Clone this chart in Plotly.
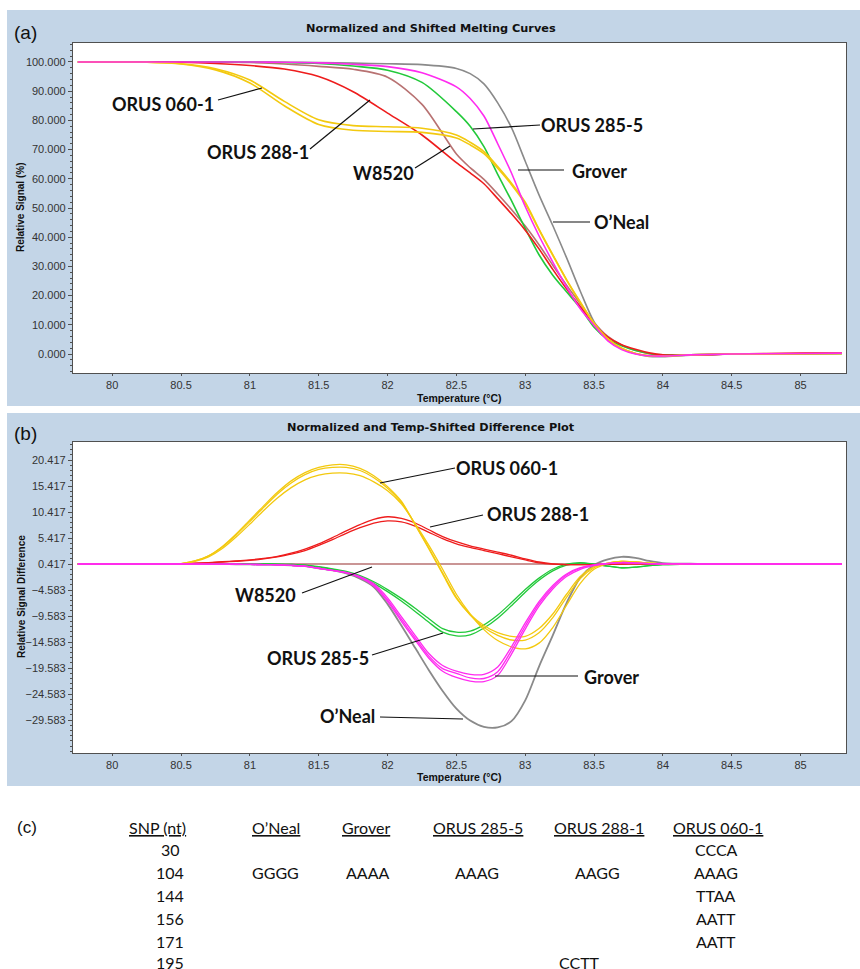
import plotly.graph_objects as go

W, H = 860, 969

# ---------------- panel (a): normalized and shifted melting curves ----------------
temp_a = [79.75, 80.0, 80.25, 80.5, 80.75, 81.0, 81.25, 81.5, 81.75, 82.0, 82.25,
          82.5, 82.6, 82.7, 82.8, 82.9, 83.0, 83.1, 83.2, 83.3, 83.4, 83.5, 83.6,
          83.7, 83.8, 83.9, 84.0, 84.2, 84.5, 85.0, 85.3]

oneal_a = [100, 100, 100, 100, 100, 100, 99.9, 99.8, 99.6, 99.4, 99.1,
           97.8, 96.0, 92.5, 86.0, 77.5, 66.0, 54.5, 44.0, 33.0, 21.5, 11.0, 4.8,
           1.8, 0.2, -0.8, -0.9, -0.4, 0.0, 0.1, 0.2]
grover_a = [100, 100, 100, 100, 100, 100, 99.9, 99.7, 99.2, 98.4, 96.3,
            91.5, 87.5, 81.5, 72.0, 62.0, 50.5, 40.5, 31.5, 23.0, 15.5, 9.8, 4.5,
            1.5, 0.0, -0.6, -0.7, -0.3, 0.0, 0.2, 0.3]
orus285_a = [100, 100, 100, 100, 100, 100, 99.8, 99.5, 98.6, 97.2, 93.0,
             83.0, 78.0, 71.0, 61.5, 52.5, 43.0, 34.0, 27.0, 21.3, 15.8, 9.2, 5.0,
             2.8, 1.2, 0.2, -0.3, -0.3, 0.0, 0.1, 0.2]
w8520_a = [100, 100, 100, 100, 100, 99.8, 99.3, 98.5, 97.5, 94.8, 85.5,
           68.5, 63.8, 59.8, 54.8, 49.5, 43.8, 37.4, 30.4, 23.6, 17.2, 10.8, 6.0,
           3.1, 1.3, 0.1, -0.4, -0.3, 0.0, 0.1, 0.2]
orus288_a = [100, 100, 100, 99.9, 99.5, 98.8, 97.6, 95.0, 89.8, 82.5, 75.0,
             65.5, 62.0, 58.3, 53.2, 48.0, 42.4, 36.0, 29.0, 22.3, 16.2, 10.2, 5.8,
             3.2, 1.6, 0.4, -0.3, -0.4, 0.0, 0.3, 0.4]
orus060_a_r1 = [100, 100, 99.9, 99.4, 97.7, 93.8, 86.5, 80.2, 78.2, 77.8, 77.3,
                75.0, 72.5, 69.3, 64.2, 58.5, 52.0, 42.8, 34.0, 25.5, 17.8, 10.5, 5.2,
                2.0, 0.2, -0.6, -0.7, -0.3, 0.0, 0.1, 0.2]
orus060_a_r2 = [100, 100, 99.9, 99.3, 97.3, 92.8, 85.0, 78.6, 76.6, 76.2, 75.9,
                74.0, 71.6, 68.6, 63.6, 58.0, 51.5, 42.5, 33.8, 25.3, 17.6, 10.4, 5.1,
                2.0, 0.2, -0.6, -0.7, -0.3, 0.0, 0.1, 0.2]

# ---------------- panel (b): difference plot ----------------
temp_b = [79.75, 80.0, 80.25, 80.5, 80.6, 80.7, 80.8, 80.9, 81.0, 81.1,
          81.2, 81.3, 81.4, 81.5, 81.6, 81.7, 81.8, 81.9, 82.0, 82.1,
          82.2, 82.3, 82.4, 82.5, 82.6, 82.7, 82.8, 82.9, 83.0, 83.1,
          83.2, 83.3, 83.4, 83.5, 83.6, 83.7, 83.8, 83.9, 84.0, 84.25,
          84.5, 85.0, 85.3]

w8520_b_temp = [79.75, 85.3]
w8520_b = [0.417, 0.417]

oneal_b = [0.417, 0.417, 0.417, 0.417, 0.41, 0.4, 0.39, 0.37, 0.34, 0.3,
           0.25, 0.15, 0.0, -0.4, -0.8, -1.4, -2.4, -4.0, -7.3, -11.4,
           -15.7, -20.0, -24.0, -27.4, -29.7, -30.9, -31.0, -29.8, -25.8, -19.3,
           -13.3, -7.1, -2.2, 0.2, 1.3, 1.8, 1.6, 1.0, 0.6, 0.45,
           0.417, 0.417, 0.417]
orus285_b_r1 = [0.417, 0.417, 0.417, 0.417, 0.417, 0.417, 0.417, 0.417, 0.417, 0.417,
                0.41, 0.35, 0.2, -0.1, -0.5, -1.0, -1.8, -3.0, -4.5, -6.2,
                -8.1, -10.1, -12.0, -12.7, -12.5, -11.3, -9.4, -7.0, -4.5, -2.3,
                -0.6, 0.4, 0.7, 0.4, 0.0, -0.3, -0.2, 0.1, 0.3, 0.417,
                0.417, 0.417, 0.417]
orus285_b_r2 = [0.417, 0.417, 0.417, 0.417, 0.417, 0.417, 0.417, 0.417, 0.417, 0.417,
                0.41, 0.35, 0.2, -0.2, -0.6, -1.2, -2.0, -3.3, -4.9, -6.7,
                -8.7, -10.8, -12.7, -13.4, -13.2, -11.9, -10.0, -7.6, -5.0, -2.7,
                -0.9, 0.2, 0.6, 0.4, 0.0, -0.3, -0.2, 0.1, 0.3, 0.417,
                0.417, 0.417, 0.417]
orus288_b_r1 = [0.417, 0.417, 0.43, 0.5, 0.6, 0.7, 0.85, 1.0, 1.2, 1.5,
                1.9, 2.5, 3.3, 4.3, 5.5, 6.8, 8.0, 9.0, 9.5, 9.2,
                8.3, 7.0, 5.7, 4.7, 3.9, 3.3, 2.7, 2.1, 1.4, 0.8,
                0.45, 0.3, 0.3, 0.3, 0.35, 0.4, 0.45, 0.45, 0.42, 0.417,
                0.417, 0.417, 0.417]
orus288_b_r2 = [0.417, 0.417, 0.42, 0.48, 0.55, 0.65, 0.8, 0.95, 1.1, 1.4,
                1.8, 2.3, 3.0, 4.0, 5.1, 6.3, 7.4, 8.3, 8.7, 8.5,
                7.7, 6.5, 5.3, 4.3, 3.6, 3.0, 2.4, 1.8, 1.2, 0.65,
                0.4, 0.3, 0.3, 0.3, 0.35, 0.4, 0.45, 0.45, 0.42, 0.417,
                0.417, 0.417, 0.417]
orus060_b_r1 = [0.417, 0.417, 0.42, 0.5, 1.0, 2.0, 3.8, 6.2, 8.9, 11.6,
                14.2, 16.4, 18.0, 19.0, 19.5, 19.5, 18.8, 17.4, 15.3, 12.5,
                8.0, 3.3, -1.5, -6.2, -9.3, -11.4, -12.8, -13.5, -13.5, -12.0,
                -9.2, -5.4, -2.0, -0.1, 0.6, 0.9, 0.8, 0.6, 0.45, 0.417,
                0.417, 0.417, 0.417]
orus060_b_r2 = [0.417, 0.417, 0.42, 0.5, 1.0, 2.0, 3.7, 6.0, 8.6, 11.3,
                13.9, 16.0, 17.6, 18.6, 19.0, 19.0, 18.4, 17.0, 15.0, 12.3,
                8.0, 3.5, -1.3, -6.0, -9.4, -11.8, -13.3, -14.2, -14.2, -12.8,
                -9.9, -6.0, -2.4, -0.3, 0.6, 0.9, 0.8, 0.6, 0.45, 0.417,
                0.417, 0.417, 0.417]
orus060_b_r3 = [0.417, 0.417, 0.42, 0.45, 0.9, 1.8, 3.4, 5.6, 8.1, 10.7,
                13.1, 15.1, 16.6, 17.5, 17.9, 17.9, 17.4, 16.2, 14.5, 12.0,
                8.2, 4.0, -0.6, -5.4, -9.2, -12.2, -14.3, -15.5, -15.9, -14.8,
                -11.8, -7.5, -3.3, -0.6, 0.5, 0.9, 0.8, 0.6, 0.45, 0.417,
                0.417, 0.417, 0.417]
grover_b_r1 = [0.417, 0.417, 0.417, 0.417, 0.41, 0.4, 0.39, 0.37, 0.34, 0.3,
               0.25, 0.15, 0.0, -0.4, -0.8, -1.3, -2.1, -3.6, -6.5, -10.2,
               -13.8, -17.3, -19.7, -20.6, -21.5, -21.6, -20.3, -16.2, -11.5, -7.2,
               -4.0, -1.7, -0.4, 0.2, 0.5, 0.7, 0.6, 0.5, 0.45, 0.417,
               0.417, 0.417, 0.417]
grover_b_r2 = [0.417, 0.417, 0.417, 0.417, 0.41, 0.4, 0.39, 0.37, 0.34, 0.3,
               0.25, 0.15, 0.0, -0.4, -0.8, -1.3, -2.2, -3.8, -6.8, -10.6,
               -14.2, -17.7, -20.2, -21.4, -22.1, -22.2, -21.0, -16.9, -12.1, -7.7,
               -4.4, -2.0, -0.6, 0.1, 0.5, 0.7, 0.6, 0.5, 0.45, 0.417,
               0.417, 0.417, 0.417]
grover_b_r3 = [0.417, 0.417, 0.417, 0.417, 0.41, 0.4, 0.39, 0.37, 0.34, 0.3,
               0.25, 0.15, 0.0, -0.4, -0.8, -1.2, -2.0, -3.4, -6.1, -9.7,
               -13.3, -16.8, -19.1, -20.2, -20.8, -20.8, -19.4, -15.5, -10.9, -6.8,
               -3.7, -1.5, -0.3, 0.25, 0.55, 0.7, 0.6, 0.5, 0.45, 0.417,
               0.417, 0.417, 0.417]

# ---------------- axis ticks ----------------
x_ticks = [80, 80.5, 81, 81.5, 82, 82.5, 83, 83.5, 84, 84.5, 85]
x_tick_text = ["80", "80.5", "81", "81.5", "82", "82.5", "83", "83.5", "84", "84.5", "85"]
ya_ticks = [0, 10, 20, 30, 40, 50, 60, 70, 80, 90, 100]
yb_ticks = [-29.583, -24.583, -19.583, -14.583, -9.583, -4.583, 0.417, 5.417, 10.417, 15.417, 20.417]

# ---------------- panel (c): SNP table ----------------
table_headers = ["SNP (nt)", "O\u2019Neal", "Grover", "ORUS 285-5", "ORUS 288-1", "ORUS 060-1"]
snp_pos = ["30", "104", "144", "156", "171", "195"]
oneal_snp = ["", "GGGG", "", "", "", ""]
grover_snp = ["", "AAAA", "", "", "", ""]
orus285_snp = ["", "AAAG", "", "", "", ""]
orus288_snp = ["", "AAGG", "", "", "", "CCTT"]
orus060_snp = ["CCCA", "AAAG", "TTAA", "AATT", "AATT", ""]

# ---------------- colours ----------------
C_YEL = "#F3C90F"
C_RED = "#EE1C1C"
C_BRN = "#B87272"
C_GRN = "#22C93A"
C_MAG = "#FF2BF0"
C_GRY = "#8A8A8A"
PANEL = "#C3D5E7"


def px(x):
    return x / W


def py(y):
    return 1 - y / H


fig = go.Figure()


def add_line(xs, ys, color, axis, width=1.6):
    fig.add_trace(go.Scatter(
        x=xs, y=ys, mode="lines",
        line=dict(color=color, width=width, shape="spline", smoothing=0.8),
        xaxis="x" if axis == 1 else "x2", yaxis="y" if axis == 1 else "y2",
        hoverinfo="skip", showlegend=False))


# panel (a) traces
add_line(temp_a, oneal_a, C_GRY, 1)
add_line(temp_a, w8520_a, C_BRN, 1)
add_line(temp_a, orus285_a, C_GRN, 1)
add_line(temp_a, orus288_a, C_RED, 1)
add_line(temp_a, orus060_a_r1, C_YEL, 1)
add_line(temp_a, orus060_a_r2, C_YEL, 1)
add_line(temp_a, grover_a, C_MAG, 1)

# panel (b) traces
add_line(w8520_b_temp, w8520_b, C_BRN, 2, 1.4)
add_line(temp_b, oneal_b, C_GRY, 2, 1.8)
add_line(temp_b, orus285_b_r1, C_GRN, 2, 1.3)
add_line(temp_b, orus285_b_r2, C_GRN, 2, 1.3)
add_line(temp_b, orus288_b_r1, C_RED, 2, 1.3)
add_line(temp_b, orus288_b_r2, C_RED, 2, 1.3)
add_line(temp_b, orus060_b_r1, C_YEL, 2, 1.3)
add_line(temp_b, orus060_b_r2, C_YEL, 2, 1.3)
add_line(temp_b, orus060_b_r3, C_YEL, 2, 1.3)
add_line(temp_b, grover_b_r1, C_MAG, 2, 1.3)
add_line(temp_b, grover_b_r2, C_MAG, 2, 1.3)
add_line(temp_b, grover_b_r3, C_MAG, 2, 1.3)

tick_font = dict(family="Liberation Sans, Arial", size=11, color="#333333")
AX_LINE = "#505050"

xdom = [px(73), px(846)]
xcommon = dict(range=[79.715, 85.33], tickmode="array", tickvals=x_ticks, ticktext=x_tick_text,
               showline=True, linecolor=AX_LINE, linewidth=1.3, mirror=True,
               ticks="outside", ticklen=2, tickcolor=AX_LINE, tickfont=tick_font,
               showgrid=False, zeroline=False, domain=xdom, fixedrange=True)
fig.update_layout(
    xaxis=dict(anchor="y", **xcommon),
    xaxis2=dict(anchor="y2", **xcommon),
    yaxis=dict(anchor="x", domain=[py(373), py(43)], range=[-6.5, 106.5],
               tickmode="array", tickvals=ya_ticks, tickformat=".3f",
               showline=True, linecolor=AX_LINE, linewidth=1.3, mirror=True,
               ticks="outside", ticklen=4, tickcolor=AX_LINE, tickfont=tick_font,
               minor=dict(ticks="outside", ticklen=2, tickcolor=AX_LINE, tickmode="linear", tick0=0, dtick=2),
               showgrid=False, zeroline=False, fixedrange=True),
    yaxis2=dict(anchor="x2", domain=[py(753), py(442)], range=[-35.93, 23.88],
                tickmode="array", tickvals=yb_ticks, tickformat=".3f",
                showline=True, linecolor=AX_LINE, linewidth=1.3, mirror=True,
                ticks="outside", ticklen=4, tickcolor=AX_LINE, tickfont=tick_font,
                minor=dict(ticks="outside", ticklen=2, tickcolor=AX_LINE, tickmode="linear", tick0=0.417, dtick=1),
                showgrid=False, zeroline=False, fixedrange=True),
)

shapes = []
# background panels + white plotting areas
for (top, bot, ptop, pbot) in [(10, 406, 43, 373), (413, 786, 442, 753)]:
    shapes.append(dict(type="rect", xref="paper", yref="paper", x0=px(7), x1=1.0,
                       y0=py(bot), y1=py(top), fillcolor=PANEL, line=dict(width=0), layer="below"))
    shapes.append(dict(type="rect", xref="paper", yref="paper", x0=px(73), x1=px(846),
                       y0=py(pbot), y1=py(ptop), fillcolor="white", line=dict(width=0), layer="below"))

# pointer lines (pixel positions)
pointers = [
    (218, 100, 262, 88), (310, 149, 370, 100), (415, 168, 450, 146),
    (473, 129, 540, 125), (518, 170, 564, 170), (553, 222, 590, 222),
    (380, 483, 455, 468), (430, 527, 483, 515), (302, 593, 372, 567),
    (372, 655, 443, 633), (495, 676, 578, 676), (380, 717, 463, 719),
]
for x0, y0, x1, y1 in pointers:
    shapes.append(dict(type="line", xref="paper", yref="paper", x0=px(x0), y0=py(y0),
                       x1=px(x1), y1=py(y1), line=dict(color="#111111", width=1.2)))

annotations = []


def text(x, y, s, size, family, color="#111111", xanchor="center", angle=0, **font_extra):
    annotations.append(dict(x=px(x), y=py(y), xref="paper", yref="paper", text=s,
                            showarrow=False, xanchor=xanchor, yanchor="middle", textangle=angle,
                            font=dict(family=family, size=size, color=color, **font_extra)))


LBL = "Lato, Open Sans, sans-serif"
# curve labels
for (x, y, s) in [(163, 104, "ORUS 060-1"), (258, 152, "ORUS 288-1"), (383, 173, "W8520"),
                  (592, 125, "ORUS 285-5"), (599, 171, "Grover"), (621, 222, "O\u2019Neal"),
                  (507, 468, "ORUS 060-1"), (538, 514, "ORUS 288-1"), (265, 595, "W8520"),
                  (318, 658, "ORUS 285-5"), (611, 677, "Grover"), (347, 716, "O\u2019Neal")]:
    text(x, y, "<b>" + s + "</b>", 18, LBL)

# panel letters
text(25, 33, "(a)", 19, "Liberation Sans, Arial")
text(25, 433, "(b)", 19, "Liberation Sans, Arial")
text(27, 827, "(c)", 17, "Liberation Sans, Arial")

# chart titles
TITLE = "DejaVu Sans, Verdana, sans-serif"
text(431, 29, "<b>Normalized and Shifted Melting Curves</b>", 11.3, TITLE)
text(431, 427, "<b>Normalized and Temp-Shifted Difference Plot</b>", 11.3, TITLE)

# axis titles
AXT = "Liberation Sans, Arial"
text(21, 208, "<b>Relative Signal (%)</b>", 10, AXT, angle=-90)
text(21, 597, "<b>Relative Signal Difference</b>", 10, AXT, angle=-90)
text(460, 397.5, "<b>Temperature (\u00b0C)</b>", 10.5, AXT)
text(460, 777, "<b>Temperature (\u00b0C)</b>", 10.5, AXT)

# table
TBL = "Lato, Open Sans, sans-serif"
header_x = [157, 276, 366, 478, 599, 718]
value_x = [170, 275, 367, 477, 597, 716]
row_y = [849, 872, 895, 918, 941, 962]
for hx, h in zip(header_x, table_headers):
    text(hx, 827, h, 16, TBL, lineposition="under")
columns = [snp_pos, oneal_snp, grover_snp, orus285_snp, orus288_snp, orus060_snp]
for ci, col in enumerate(columns):
    for ri, val in enumerate(col):
        if val:
            vx = value_x[ci]
            if ci == 4 and ri == 5:
                vx = 579
            text(vx, row_y[ri], val, 16, TBL)

fig.update_layout(
    width=W, height=H, autosize=False,
    margin=dict(l=0, r=0, t=0, b=0),
    paper_bgcolor="white", plot_bgcolor="white",
    showlegend=False, shapes=shapes, annotations=annotations,
)

fig.write_html("out.html", config={"displayModeBar": False},
               post_script="document.body.style.margin='0px';")
